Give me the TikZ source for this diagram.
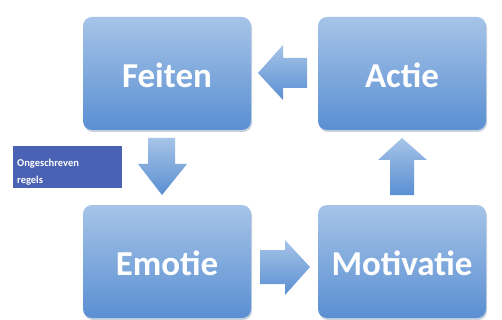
\documentclass[tikz,border=0pt]{standalone}
\usepackage{fontspec}
\setmainfont{Carlito}
\begin{document}
\begin{tikzpicture}[x=1pt,y=-1pt,
  boxstyle/.style={rounded corners=9pt, top color=boxtop, bottom color=boxbot, draw=none},
  arrowstyle/.style={top color=boxtop, bottom color=boxbot, draw=none},
  boxtext/.style={text=white, font=\fontsize{35}{40}\selectfont\bfseries}]
\definecolor{boxtop}{HTML}{A6C4E8}
\definecolor{boxbot}{HTML}{5A8FD2}
\definecolor{labelblue}{HTML}{4A62B4}
\definecolor{shadowc}{HTML}{C8D2DE}
\useasboundingbox (0,0) rectangle (502,320);
\fill[white] (0,0) rectangle (502,320);
% shadows
\foreach \x/\y in {83/17,318/17,83/205,318/205}
  \fill[shadowc, rounded corners=9pt] (\x+1,\y+2) rectangle (\x+169,\y+115);
% boxes
\path[boxstyle] (83,17) rectangle (251,130);
\node[boxtext] (feiten) at (167,75) {Feiten};
\path[boxstyle] (318,17) rectangle (486,130);
\node[boxtext] (actie) at (402,75) {Actie};
\path[boxstyle] (83,205) rectangle (251,318);
\node[boxtext] (emotie) at (167,263) {Emotie};
\path[boxstyle] (318,205) rectangle (486,318);
\node[boxtext] (motivatie) at (402,263) {Motivatie};
% block arrows
\path[arrowstyle] (307,58) -- (283,58) -- (283,45) -- (258,73) -- (283,100) -- (283,88) -- (307,88) -- cycle;
\path[arrowstyle] (148,138) -- (175,138) -- (175,164) -- (187,164) -- (162,195) -- (138,164) -- (148,164) -- cycle;
\path[arrowstyle] (260,250) -- (285,250) -- (285,240) -- (310,267) -- (285,295) -- (285,284) -- (260,284) -- cycle;
\path[arrowstyle] (390,195) -- (414,195) -- (414,160) -- (427,160) -- (402,138) -- (378,160) -- (390,160) -- cycle;
% label
\fill[labelblue] (13,146) rectangle (122,188);
\node[text=white, font=\fontsize{10.5}{17}\selectfont\bfseries, align=left, anchor=base west, inner sep=0pt] (label) at (17,183) {Ongeschreven\\regels};
\end{tikzpicture}
\end{document}
